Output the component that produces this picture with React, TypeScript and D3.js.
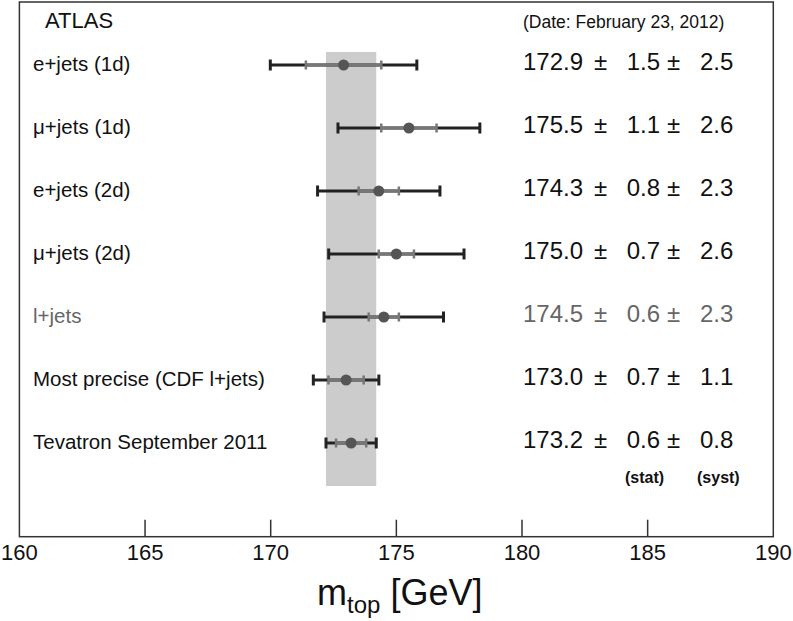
import React from "react";
import * as d3 from "d3";

const labels = [
  "e+jets (1d)",
  "\u03bc+jets (1d)",
  "e+jets (2d)",
  "\u03bc+jets (2d)",
  "l+jets",
  "Most precise (CDF l+jets)",
  "Tevatron September 2011",
];
const centralValues = [172.9, 175.5, 174.3, 175.0, 174.5, 173.0, 173.2];
const statErrors = [1.5, 1.1, 0.8, 0.7, 0.6, 0.7, 0.6];
const systErrors = [2.5, 2.6, 2.3, 2.6, 2.3, 1.1, 0.8];
const highlighted = [false, false, false, false, true, false, false];
const xTicks = [160, 165, 170, 175, 180, 185, 190];
const bandCenter = 173.2;
const bandHalfWidth = 1.0;

const W = 793;
const H = 621;
const FONT = "'Liberation Sans', Arial, Helvetica, sans-serif";

export default function App() {
  const x = d3.scaleLinear().domain([160, 190]).range([19.4, 773.3]);
  const y = d3.scaleLinear().domain([0, labels.length - 1]).range([65, 443]);
  const top = 2;
  const bottom = 536.7;

  return (
    <svg
      width={W}
      height={H}
      style={{ position: "absolute", left: 0, top: 0, background: "#fff" }}
      fontFamily={FONT}
    >
      <rect x={0} y={0} width={W} height={H} fill="#fff" />
      {/* band */}
      <rect
        x={x(bandCenter - bandHalfWidth)}
        y={52}
        width={x(bandCenter + bandHalfWidth) - x(bandCenter - bandHalfWidth)}
        height={486 - 52}
        fill="#cccccc"
      />
      {/* frame */}
      <rect
        x={x(160)}
        y={top}
        width={x(190) - x(160)}
        height={bottom - top}
        fill="none"
        stroke="#333"
        strokeWidth={1.5}
      />
      {/* ticks */}
      {xTicks.map((t) => (
        <g key={t}>
          {t !== 160 && t !== 190 && (
            <line x1={x(t)} x2={x(t)} y1={bottom} y2={bottom - 17} stroke="#333" strokeWidth={1.5} />
          )}
          <text x={x(t)} y={560} fontSize={22} textAnchor="middle" fill="#111">
            {t}
          </text>
        </g>
      ))}
      {/* axis title */}
      <text x={317} y={605} fontSize={36} fill="#111">
        m
        <tspan fontSize={24} dy={8}>top</tspan>
        <tspan dy={-8}> [GeV]</tspan>
      </text>
      <text x={45} y={28} fontSize={22} fill="#111">ATLAS</text>
      <text x={523} y={28} fontSize={17.5} fill="#111">(Date: February 23, 2012)</text>

      {labels.map((lab, i) => {
        const c = centralValues[i];
        const s = statErrors[i];
        const tot = Math.sqrt(statErrors[i] ** 2 + systErrors[i] ** 2);
        const cy = y(i);
        const col = highlighted[i] ? "#666" : "#111";
        return (
          <g key={lab}>
            <text x={33} y={cy + 6} fontSize={20.5} fill={col}>{lab}</text>
            {/* total */}
            <line x1={x(c - tot)} x2={x(c + tot)} y1={cy} y2={cy} stroke="#222" strokeWidth={3} />
            <line x1={x(c - tot)} x2={x(c - tot)} y1={cy - 5.5} y2={cy + 5.5} stroke="#222" strokeWidth={3} />
            <line x1={x(c + tot)} x2={x(c + tot)} y1={cy - 5.5} y2={cy + 5.5} stroke="#222" strokeWidth={3} />
            {/* stat */}
            <line x1={x(c - s)} x2={x(c + s)} y1={cy} y2={cy} stroke="#777" strokeWidth={3} />
            <line x1={x(c - s)} x2={x(c - s)} y1={cy - 4.5} y2={cy + 4.5} stroke="#777" strokeWidth={2.5} />
            <line x1={x(c + s)} x2={x(c + s)} y1={cy - 4.5} y2={cy + 4.5} stroke="#777" strokeWidth={2.5} />
            <circle cx={x(c)} cy={cy} r={5.5} fill="#555" />
            {/* values */}
            <text x={583} y={cy + 5} fontSize={24} fill={col} textAnchor="end">{c.toFixed(1)}</text>
            <text x={594} y={cy + 5} fontSize={24} fill={col}>{"\u00b1"}</text>
            <text x={660} y={cy + 5} fontSize={24} fill={col} textAnchor="end">{s.toFixed(1)}</text>
            <text x={667} y={cy + 5} fontSize={24} fill={col}>{"\u00b1"}</text>
            <text x={700} y={cy + 5} fontSize={24} fill={col}>{systErrors[i].toFixed(1)}</text>
          </g>
        );
      })}
      <text x={625} y={483} fontSize={16} fontWeight="bold" fill="#111">(stat)</text>
      <text x={697} y={483} fontSize={16} fontWeight="bold" fill="#111">(syst)</text>
    </svg>
  );
}
